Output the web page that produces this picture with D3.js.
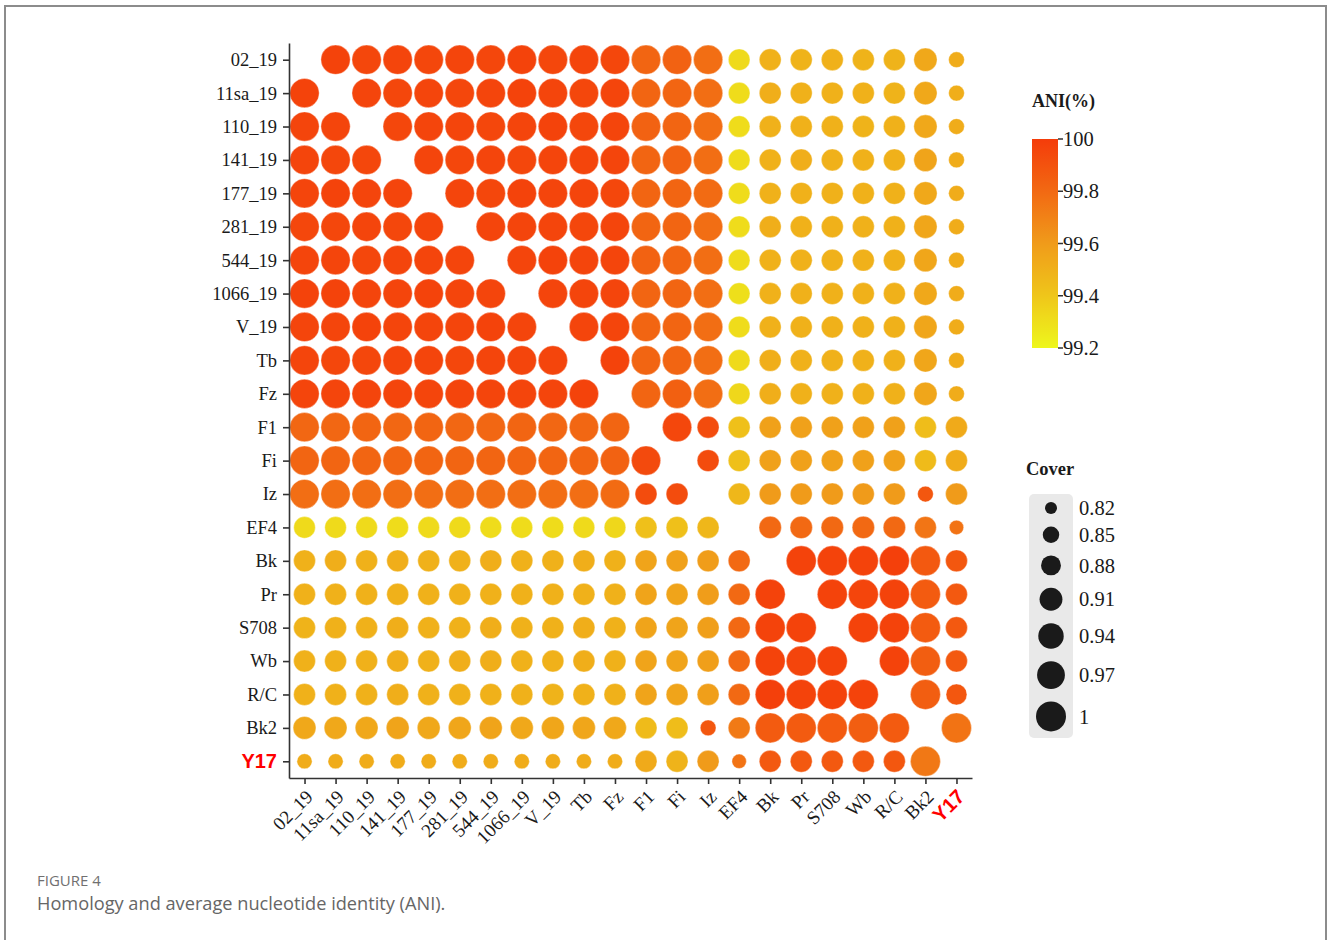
<!DOCTYPE html>
<html>
<head>
<meta charset="utf-8">
<script src="https://cdn.jsdelivr.net/npm/d3@7"></script>
<style>
  body { margin: 0; background: #fff; }
  svg { display: block; }
</style>
</head>
<body>
<svg id="chart" width="1328" height="940"></svg>
<script>
// Strain order (rows top→bottom, columns left→right)
const strains = ["02_19", "11sa_19", "110_19", "141_19", "177_19", "281_19", "544_19",
  "1066_19", "V_19", "Tb", "Fz", "F1", "Fi", "Iz", "EF4", "Bk", "Pr", "S708", "Wb",
  "R/C", "Bk2", "Y17"];
const highlighted = ["Y17"];

// Pairwise average nucleotide identity (%), row = query, column = reference
const ani = [
  [null, 99.97, 99.95, 99.96, 99.95, 99.96, 99.95, 99.97, 99.95, 99.96, 99.95, 99.82, 99.83, 99.78, 99.32, 99.50, 99.49, 99.50, 99.49, 99.49, 99.54, 99.52],
  [99.97, null, 99.96, 99.95, 99.96, 99.95, 99.96, 99.97, 99.96, 99.95, 99.96, 99.82, 99.82, 99.78, 99.31, 99.51, 99.50, 99.50, 99.50, 99.49, 99.54, 99.51],
  [99.96, 99.96, null, 99.95, 99.96, 99.96, 99.95, 99.96, 99.97, 99.95, 99.96, 99.83, 99.82, 99.78, 99.31, 99.50, 99.50, 99.50, 99.49, 99.50, 99.54, 99.52],
  [99.96, 99.95, 99.95, null, 99.96, 99.95, 99.96, 99.95, 99.96, 99.96, 99.96, 99.82, 99.83, 99.78, 99.31, 99.50, 99.51, 99.50, 99.50, 99.50, 99.56, 99.52],
  [99.96, 99.97, 99.96, 99.96, null, 99.96, 99.95, 99.97, 99.96, 99.96, 99.95, 99.82, 99.82, 99.79, 99.31, 99.50, 99.50, 99.50, 99.50, 99.50, 99.54, 99.52],
  [99.95, 99.95, 99.96, 99.95, 99.96, null, 99.96, 99.96, 99.96, 99.95, 99.96, 99.82, 99.82, 99.78, 99.31, 99.51, 99.50, 99.50, 99.50, 99.50, 99.55, 99.52],
  [99.96, 99.96, 99.95, 99.96, 99.96, 99.96, null, 99.96, 99.97, 99.96, 99.96, 99.83, 99.82, 99.78, 99.31, 99.50, 99.50, 99.50, 99.50, 99.50, 99.55, 99.52],
  [99.97, 99.97, 99.96, 99.96, 99.97, 99.96, 99.96, null, 99.96, 99.96, 99.96, 99.82, 99.82, 99.78, 99.30, 99.50, 99.50, 99.50, 99.50, 99.50, 99.54, 99.52],
  [99.96, 99.96, 99.97, 99.96, 99.96, 99.96, 99.97, 99.96, null, 99.96, 99.96, 99.82, 99.82, 99.78, 99.31, 99.50, 99.50, 99.50, 99.50, 99.50, 99.55, 99.52],
  [99.96, 99.95, 99.95, 99.96, 99.96, 99.95, 99.96, 99.96, 99.96, null, 99.97, 99.82, 99.82, 99.78, 99.32, 99.51, 99.50, 99.50, 99.50, 99.50, 99.55, 99.52],
  [99.96, 99.96, 99.96, 99.96, 99.96, 99.96, 99.96, 99.96, 99.96, 99.97, null, 99.82, 99.84, 99.78, 99.33, 99.51, 99.50, 99.50, 99.50, 99.50, 99.55, 99.52],
  [99.81, 99.81, 99.82, 99.81, 99.82, 99.81, 99.81, 99.82, 99.81, 99.81, 99.82, null, 99.95, 99.93, 99.43, 99.57, 99.57, 99.57, 99.57, 99.57, 99.44, 99.53],
  [99.82, 99.82, 99.82, 99.82, 99.82, 99.82, 99.82, 99.82, 99.82, 99.82, 99.83, 99.94, null, 99.93, 99.43, 99.57, 99.57, 99.57, 99.57, 99.57, 99.45, 99.52],
  [99.78, 99.78, 99.78, 99.78, 99.78, 99.78, 99.78, 99.78, 99.78, 99.78, 99.79, 99.93, 99.93, null, 99.47, 99.60, 99.60, 99.60, 99.60, 99.60, 99.88, 99.60],
  [99.32, 99.32, 99.32, 99.31, 99.32, 99.32, 99.31, 99.31, 99.31, 99.32, 99.33, 99.43, 99.43, 99.47, null, 99.80, 99.80, 99.80, 99.80, 99.80, 99.75, 99.76],
  [99.50, 99.51, 99.50, 99.51, 99.50, 99.50, 99.51, 99.50, 99.50, 99.51, 99.50, 99.56, 99.57, 99.59, 99.80, null, 99.97, 99.97, 99.97, 99.98, 99.87, 99.88],
  [99.50, 99.50, 99.50, 99.50, 99.50, 99.50, 99.50, 99.50, 99.50, 99.50, 99.50, 99.56, 99.56, 99.59, 99.80, 99.97, null, 99.97, 99.96, 99.97, 99.86, 99.87],
  [99.49, 99.50, 99.50, 99.51, 99.50, 99.50, 99.51, 99.50, 99.50, 99.51, 99.50, 99.56, 99.56, 99.58, 99.80, 99.97, 99.97, null, 99.97, 99.97, 99.86, 99.87],
  [99.50, 99.50, 99.50, 99.51, 99.50, 99.51, 99.51, 99.50, 99.50, 99.51, 99.50, 99.56, 99.56, 99.58, 99.80, 99.97, 99.96, 99.97, null, 99.97, 99.85, 99.87],
  [99.50, 99.50, 99.50, 99.51, 99.50, 99.50, 99.50, 99.50, 99.49, 99.50, 99.50, 99.56, 99.56, 99.58, 99.80, 99.98, 99.97, 99.97, 99.97, null, 99.85, 99.88],
  [99.54, 99.54, 99.54, 99.56, 99.54, 99.55, 99.56, 99.54, 99.55, 99.55, 99.54, 99.45, 99.44, 99.88, 99.73, 99.86, 99.86, 99.86, 99.85, 99.86, null, 99.76],
  [99.52, 99.52, 99.52, 99.52, 99.52, 99.52, 99.52, 99.52, 99.52, 99.52, 99.52, 99.53, 99.49, 99.60, 99.76, 99.87, 99.87, 99.87, 99.87, 99.88, 99.74, null]
];

// Alignment coverage fraction, same layout as ani
const cover = [
  [null, 0.99, 0.99, 0.99, 0.99, 0.99, 0.99, 0.99, 0.99, 0.99, 0.99, 0.99, 0.99, 0.99, 0.897, 0.90, 0.90, 0.90, 0.90, 0.90, 0.915, 0.845],
  [0.99, null, 0.99, 0.99, 0.99, 0.99, 0.99, 0.99, 0.99, 0.99, 0.99, 0.99, 0.99, 0.99, 0.897, 0.90, 0.90, 0.90, 0.90, 0.90, 0.915, 0.845],
  [0.99, 0.99, null, 0.99, 0.99, 0.99, 0.99, 0.99, 0.99, 0.99, 0.99, 0.99, 0.99, 0.99, 0.897, 0.90, 0.90, 0.90, 0.90, 0.90, 0.915, 0.845],
  [0.99, 0.99, 0.99, null, 0.99, 0.99, 0.99, 0.99, 0.99, 0.99, 0.99, 0.99, 0.99, 0.99, 0.897, 0.90, 0.90, 0.90, 0.90, 0.90, 0.915, 0.845],
  [0.99, 0.99, 0.99, 0.99, null, 0.99, 0.99, 0.99, 0.99, 0.99, 0.99, 0.99, 0.99, 0.99, 0.897, 0.90, 0.90, 0.90, 0.90, 0.90, 0.915, 0.845],
  [0.99, 0.99, 0.99, 0.99, 0.99, null, 0.99, 0.99, 0.99, 0.99, 0.99, 0.99, 0.99, 0.99, 0.897, 0.90, 0.90, 0.90, 0.90, 0.90, 0.915, 0.845],
  [0.99, 0.99, 0.99, 0.99, 0.99, 0.99, null, 0.99, 0.99, 0.99, 0.99, 0.99, 0.99, 0.99, 0.897, 0.90, 0.90, 0.90, 0.90, 0.90, 0.915, 0.845],
  [0.99, 0.99, 0.99, 0.99, 0.99, 0.99, 0.99, null, 0.99, 0.99, 0.99, 0.99, 0.99, 0.99, 0.897, 0.90, 0.90, 0.90, 0.90, 0.90, 0.915, 0.845],
  [0.99, 0.99, 0.99, 0.99, 0.99, 0.99, 0.99, 0.99, null, 0.99, 0.99, 0.99, 0.99, 0.99, 0.897, 0.90, 0.90, 0.90, 0.90, 0.90, 0.915, 0.845],
  [0.99, 0.99, 0.99, 0.99, 0.99, 0.99, 0.99, 0.99, 0.99, null, 0.99, 0.99, 0.99, 0.99, 0.897, 0.90, 0.90, 0.90, 0.90, 0.90, 0.915, 0.845],
  [0.99, 0.99, 0.99, 0.99, 0.99, 0.99, 0.99, 0.99, 0.99, 0.99, null, 0.99, 0.99, 0.99, 0.897, 0.90, 0.90, 0.90, 0.90, 0.90, 0.915, 0.845],
  [0.99, 0.99, 0.99, 0.99, 0.99, 0.99, 0.99, 0.99, 0.99, 0.99, 0.99, null, 0.99, 0.90, 0.90, 0.90, 0.90, 0.90, 0.90, 0.90, 0.90, 0.90],
  [0.99, 0.99, 0.99, 0.99, 0.99, 0.99, 0.99, 0.99, 0.99, 0.99, 0.99, 0.99, null, 0.90, 0.90, 0.90, 0.90, 0.90, 0.90, 0.90, 0.90, 0.90],
  [0.99, 0.99, 0.99, 0.99, 0.99, 0.99, 0.99, 0.99, 0.99, 0.99, 0.99, 0.90, 0.90, null, 0.90, 0.90, 0.90, 0.90, 0.90, 0.90, 0.845, 0.90],
  [0.897, 0.897, 0.897, 0.897, 0.897, 0.897, 0.897, 0.897, 0.897, 0.897, 0.897, 0.90, 0.90, 0.90, null, 0.905, 0.905, 0.905, 0.905, 0.905, 0.90, 0.835],
  [0.90, 0.90, 0.90, 0.90, 0.90, 0.90, 0.90, 0.90, 0.90, 0.90, 0.90, 0.90, 0.90, 0.90, 0.90, null, 1.00, 1.00, 1.00, 1.00, 1.00, 0.90],
  [0.90, 0.90, 0.90, 0.90, 0.90, 0.90, 0.90, 0.90, 0.90, 0.90, 0.90, 0.90, 0.90, 0.90, 0.90, 1.00, null, 1.00, 1.00, 1.00, 1.00, 0.90],
  [0.90, 0.90, 0.90, 0.90, 0.90, 0.90, 0.90, 0.90, 0.90, 0.90, 0.90, 0.90, 0.90, 0.90, 0.90, 1.00, 1.00, null, 1.00, 1.00, 1.00, 0.90],
  [0.90, 0.90, 0.90, 0.90, 0.90, 0.90, 0.90, 0.90, 0.90, 0.90, 0.90, 0.90, 0.90, 0.90, 0.90, 1.00, 1.00, 1.00, null, 1.00, 1.00, 0.90],
  [0.90, 0.90, 0.90, 0.90, 0.90, 0.90, 0.90, 0.90, 0.90, 0.90, 0.90, 0.90, 0.90, 0.90, 0.90, 1.00, 1.00, 1.00, 1.00, null, 1.00, 0.89],
  [0.91, 0.91, 0.91, 0.91, 0.91, 0.91, 0.91, 0.91, 0.91, 0.91, 0.91, 0.90, 0.90, 0.845, 0.90, 1.00, 1.00, 1.00, 1.00, 1.00, null, 1.00],
  [0.84, 0.84, 0.84, 0.84, 0.84, 0.84, 0.84, 0.84, 0.84, 0.84, 0.84, 0.90, 0.90, 0.90, 0.835, 0.90, 0.90, 0.90, 0.90, 0.90, 1.00, null]
];

// Legend ticks
const aniTicks = [100, 99.8, 99.6, 99.4, 99.2];
const coverTicks = [0.82, 0.85, 0.88, 0.91, 0.94, 0.97, 1];

const captionLabel = "FIGURE 4";
const captionText = "Homology and average nucleotide identity (ANI).";

const svg = d3.select("#chart");
const serif = "'Liberation Serif', 'Times New Roman', serif";
const sans = "'Liberation Sans', Arial, sans-serif";

// Figure frame
svg.append("path")
  .attr("d", "M5,945 L5,6 L1326,6 L1326,945")
  .attr("fill", "none")
  .attr("stroke", "#8c8c8c")
  .attr("stroke-width", 2);

// Plot area
const plot = { left: 289, right: 972, top: 43, bottom: 778 };
const x = d3.scalePoint().domain(strains).range([plot.left, plot.right]).padding(0.5);
const y = d3.scalePoint().domain(strains).range([plot.top, plot.bottom]).padding(0.5);

const color = d3.scaleLinear()
  .domain([99.2, 99.4, 99.6, 99.8, 100])
  .range(["#eef71c", "#efc61a", "#f09b1a", "#f26913", "#f43c0a"])
  .clamp(true);
const radius = d3.scaleRadial().domain([0.82, 1]).range([6, 15]).clamp(true);

// Cells
const cells = [];
strains.forEach((rowName, i) => {
  strains.forEach((colName, j) => {
    if (ani[i][j] == null) return;
    cells.push({ row: rowName, col: colName, ani: ani[i][j], cover: cover[i][j] });
  });
});

svg.append("g").selectAll("circle")
  .data(cells)
  .join("circle")
  .attr("cx", d => x(d.col))
  .attr("cy", d => y(d.row))
  .attr("r", d => radius(d.cover))
  .attr("fill", d => color(d.ani))
  .attr("stroke", "#ffffff")
  .attr("stroke-opacity", 0.45)
  .attr("stroke-width", 0.8);

// Axes
const axisColor = "#333";
const yAxis = svg.append("g")
  .attr("transform", `translate(${plot.left},0)`)
  .call(d3.axisLeft(y).tickSize(6).tickPadding(6).tickSizeOuter(0));
const xAxis = svg.append("g")
  .attr("transform", `translate(0,${plot.bottom})`)
  .call(d3.axisBottom(x).tickSize(6).tickSizeOuter(0));

[yAxis, xAxis].forEach(g => {
  g.select(".domain").attr("stroke", axisColor).attr("stroke-width", 1.6);
  g.selectAll(".tick line").attr("stroke", axisColor).attr("stroke-width", 1.6);
  g.selectAll(".tick text")
    .attr("fill", "#1a1a1a")
    .style("font-family", serif)
    .style("font-size", "18.5px");
});

xAxis.selectAll(".tick text")
  .attr("text-anchor", "end")
  .attr("x", 0).attr("y", 0).attr("dy", 0)
  .style("font-size", "19px")
  .attr("transform", "translate(9,20) rotate(-45)");

[yAxis, xAxis].forEach(g => {
  g.selectAll(".tick text")
    .filter(d => highlighted.includes(d))
    .attr("fill", "#ff0000")
    .style("font-family", sans)
    .style("font-weight", "bold")
    .style("font-size", "20px");
});

// ANI colour bar
const bar = { x: 1032, width: 26, top: 139, bottom: 348 };
const barScale = d3.scaleLinear().domain([99.2, 100]).range([bar.bottom, bar.top]);
const defs = svg.append("defs");
const grad = defs.append("linearGradient")
  .attr("id", "aniGradient")
  .attr("x1", 0).attr("y1", 1).attr("x2", 0).attr("y2", 0);
d3.range(0, 1.0001, 0.05).forEach(t => {
  const v = 99.2 + t * 0.8;
  grad.append("stop").attr("offset", t).attr("stop-color", color(v));
});
svg.append("text")
  .attr("x", bar.x).attr("y", 107)
  .style("font-family", serif).style("font-weight", "bold").style("font-size", "18px")
  .attr("fill", "#1a1a1a")
  .text("ANI(%)");
svg.append("rect")
  .attr("x", bar.x).attr("y", bar.top)
  .attr("width", bar.width).attr("height", bar.bottom - bar.top)
  .attr("fill", "url(#aniGradient)");
const barTicks = svg.append("g").selectAll("g").data(aniTicks).join("g")
  .attr("transform", d => `translate(${bar.x + bar.width},${barScale(d)})`);
barTicks.append("line").attr("x1", 0).attr("x2", 5).attr("stroke", "#333").attr("stroke-width", 1.5);
barTicks.append("text")
  .attr("x", 5).attr("dy", "0.35em")
  .style("font-family", serif).style("font-size", "20.5px")
  .attr("fill", "#1a1a1a")
  .text(d => d);

// Cover size legend
svg.append("text")
  .attr("x", 1026).attr("y", 475)
  .style("font-family", serif).style("font-weight", "bold").style("font-size", "18.5px")
  .attr("fill", "#1a1a1a")
  .text("Cover");
svg.append("rect")
  .attr("x", 1029).attr("y", 494).attr("width", 44).attr("height", 244)
  .attr("rx", 5).attr("fill", "#e9e9e9");
const legendGap = 12.5;
let cy = 508;
const legendItems = coverTicks.map((c, i) => {
  if (i > 0) cy += radius(coverTicks[i - 1]) + radius(c) + legendGap;
  return { value: c, cy: cy };
});
const legendRows = svg.append("g").selectAll("g").data(legendItems).join("g")
  .attr("transform", d => `translate(1051,${d.cy})`);
legendRows.append("circle").attr("r", d => radius(d.value)).attr("fill", "#1a1a1a");
legendRows.append("text")
  .attr("x", 28).attr("dy", "0.35em")
  .style("font-family", serif).style("font-size", "20.5px")
  .attr("fill", "#1a1a1a")
  .text(d => d.value);

// Caption
svg.append("text")
  .attr("x", 37).attr("y", 886)
  .style("font-family", "'Open Sans', sans-serif").style("font-size", "15px")
  .attr("fill", "#707070")
  .text(captionLabel);
svg.append("text")
  .attr("x", 37).attr("y", 910)
  .style("font-family", "'Open Sans', sans-serif").style("font-size", "18.2px")
  .attr("fill", "#666666")
  .text(captionText);
</script>
</body>
</html>
